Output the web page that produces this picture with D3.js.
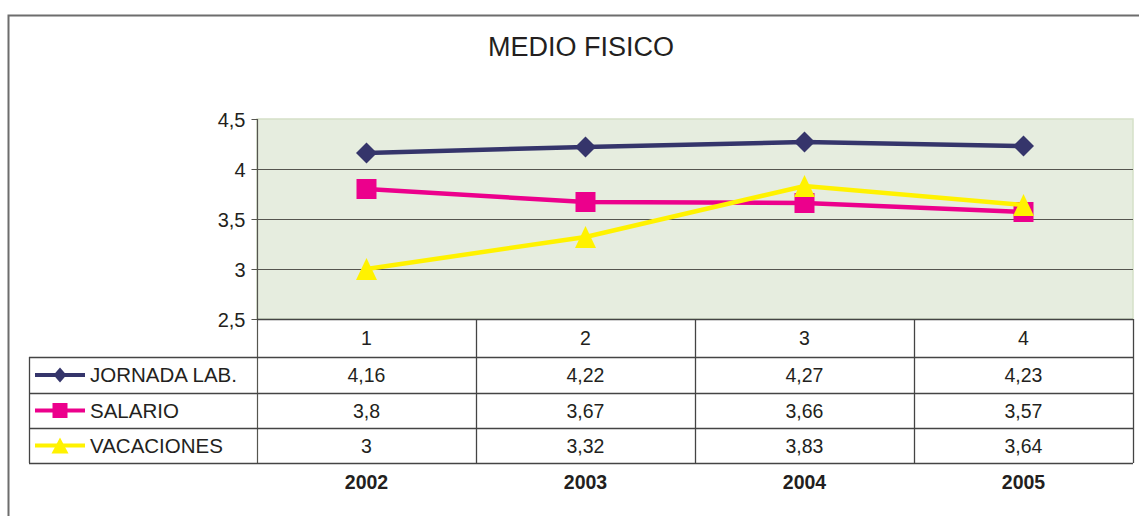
<!DOCTYPE html>
<html><head><meta charset="utf-8">
<script src="https://cdn.jsdelivr.net/npm/d3@7"></script>
<style>
html,body{margin:0;padding:0;background:#fff;}
text{font-family:"Liberation Sans",Arial,Helvetica,sans-serif;fill:#231f20;}
</style></head><body>
<svg id="c" width="1139" height="516"></svg>
<script>
const title = "MEDIO FISICO";
const categories = ["1","2","3","4"];
const years = ["2002","2003","2004","2005"];
const seriesNames = ["JORNADA LAB.","SALARIO","VACACIONES"];
const jornada = [4.16,4.22,4.27,4.23];
const salario = [3.8,3.67,3.66,3.57];
const vacaciones = [3,3.32,3.83,3.64];
const yTicks = [2.5,3,3.5,4,4.5];

const colors = ["#35356b","#ec008c","#fff200"];
const seriesData = [jornada, salario, vacaciones];

// marker shapes (w = width, h = height)
function markerPath(kind, w, h) {
  const p = d3.path();
  if (kind === 0) { p.moveTo(0,-h/2); p.lineTo(w/2,0); p.lineTo(0,h/2); p.lineTo(-w/2,0); p.closePath(); }
  else if (kind === 1) { p.rect(-w/2,-h/2,w,h); }
  else { p.moveTo(0,-h/2); p.lineTo(w/2,h/2); p.lineTo(-w/2,h/2); p.closePath(); }
  return p.toString();
}
const bigSize = [[21,21],[20,20],[21,22]];
const smallSize = [[13,15],[15,15],[17,16]];

const loc = d3.formatLocale({decimal:",",thousands:".",grouping:[3],currency:["","€"]});
const fmt = v => loc.format("~g")(v);

const svg = d3.select("#c");
const L = 257, R = 1133, T = 119, B = 319;
const legendX = 29;
const rowEdges = [B, 357, 393, 428, 463];

const x = d3.scaleBand().domain(categories).range([L, R]);
const y = d3.scaleLinear().domain([2.5, 4.5]).range([B, T]);

// outer border
svg.append("path").attr("d", `M8.5,520 V15.5 H1145`).attr("fill","none").attr("stroke","#6d6d6d").attr("stroke-width",2);

// title
svg.append("text").attr("x", 581).attr("y", 56).attr("text-anchor","middle")
  .style("font-size","27px").text(title);

// plot background
svg.append("rect").attr("x", L).attr("y", T).attr("width", R - L).attr("height", B - T)
  .attr("fill","#e6eddf").attr("stroke","#d5e0c8").attr("stroke-width",1.5);

// gridlines
svg.append("g").selectAll("line").data(yTicks.filter(t => t > 2.5 && t < 4.5)).join("line")
  .attr("x1", L).attr("x2", R).attr("y1", d => Math.round(y(d)) + 0.5).attr("y2", d => Math.round(y(d)) + 0.5)
  .attr("stroke","#55554f").attr("stroke-width",1.2);

// y axis
const yAxis = d3.axisLeft(y).tickValues(yTicks).tickSize(6).tickPadding(6).tickFormat(fmt);
const ga = svg.append("g").attr("transform", `translate(${L + 0.5},0)`).call(yAxis);
ga.select(".domain").remove();
ga.selectAll(".tick line").attr("stroke","#55554f");
ga.selectAll(".tick text").style("font-size","20px").style("font-family","Liberation Sans, Arial, sans-serif").attr("fill","#231f20").attr("dy","0.36em");
svg.append("line").attr("x1", L + 0.5).attr("x2", L + 0.5).attr("y1", T).attr("y2", rowEdges[4])
  .attr("stroke","#55554f").attr("stroke-width",1.2);

// table
const tg = svg.append("g");
const lineC = "#444";
tg.append("line").attr("x1", L).attr("x2", R).attr("y1", B + 0.5).attr("y2", B + 0.5).attr("stroke", lineC).attr("stroke-width",1.3);
rowEdges.slice(1).forEach(yy => {
  tg.append("line").attr("x1", legendX).attr("x2", R).attr("y1", yy + 0.5).attr("y2", yy + 0.5).attr("stroke", lineC).attr("stroke-width",1.3);
});
categories.forEach((c, i) => {
  const xx = x(c) + x.bandwidth();
  tg.append("line").attr("x1", xx + 0.5).attr("x2", xx + 0.5).attr("y1", B).attr("y2", rowEdges[4]).attr("stroke", lineC).attr("stroke-width",1.3);
});
tg.append("line").attr("x1", legendX + 0.5).attr("x2", legendX + 0.5).attr("y1", rowEdges[1]).attr("y2", rowEdges[4]).attr("stroke", lineC).attr("stroke-width",1.3);

// category labels
tg.selectAll("text.cat").data(categories).join("text").attr("class","cat")
  .attr("x", d => x(d) + x.bandwidth() / 2).attr("y", (rowEdges[0] + rowEdges[1]) / 2)
  .attr("dy","0.36em").attr("text-anchor","middle").style("font-size","19.5px").text(d => d);

// values + legend
seriesData.forEach((vals, si) => {
  const cy = (rowEdges[si + 1] + rowEdges[si + 2]) / 2;
  tg.selectAll(null).data(vals).join("text")
    .attr("x", (d, i) => x(categories[i]) + x.bandwidth() / 2).attr("y", cy)
    .attr("dy","0.36em").attr("text-anchor","middle").style("font-size","19.5px").text(d => fmt(d));
  tg.append("line").attr("x1", 35).attr("x2", 85).attr("y1", cy).attr("y2", cy).attr("stroke", colors[si]).attr("stroke-width",4);
  tg.append("path").attr("d", markerPath(si, smallSize[si][0], smallSize[si][1]))
    .attr("transform", `translate(60,${cy})`).attr("fill", colors[si]);
  tg.append("text").attr("x", 90).attr("y", cy).attr("dy","0.36em").style("font-size","20.5px").text(seriesNames[si]);
});

// years
tg.selectAll("text.yr").data(years).join("text").attr("class","yr")
  .attr("x", (d, i) => x(categories[i]) + x.bandwidth() / 2).attr("y", 482)
  .attr("dy","0.36em").attr("text-anchor","middle").style("font-size","19.5px").style("font-weight","bold").text(d => d);

// series
const line = d3.line().x((d, i) => x(categories[i]) + x.bandwidth() / 2).y(d => y(d));
seriesData.forEach((vals, si) => {
  const g = svg.append("g");
  g.append("path").datum(vals).attr("d", line).attr("fill","none").attr("stroke", colors[si]).attr("stroke-width",4.5);
  g.selectAll("path.m").data(vals).join("path").attr("class","m")
    .attr("d", markerPath(si, bigSize[si][0], bigSize[si][1]))
    .attr("transform", (d, i) => `translate(${x(categories[i]) + x.bandwidth() / 2},${y(d)})`)
    .attr("fill", colors[si]);
});
</script>
</body></html>
